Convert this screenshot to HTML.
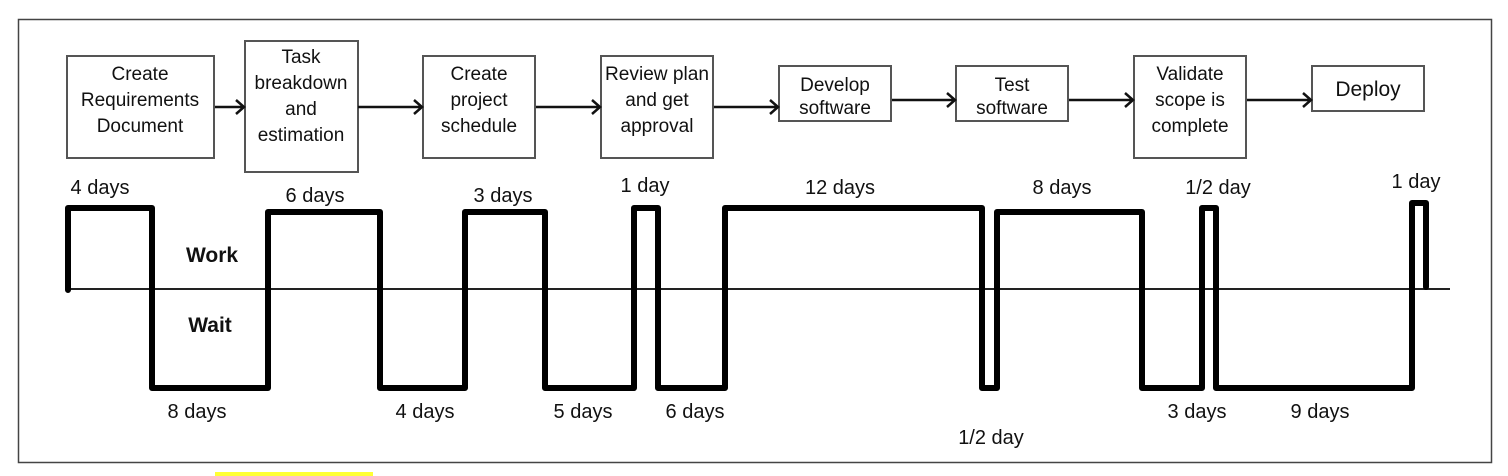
<!DOCTYPE html>
<html><head><meta charset="utf-8"><style>
html,body{margin:0;padding:0;background:#fff;width:1508px;height:476px;overflow:hidden}
text{font-family:"Liberation Sans Narrow","Liberation Sans",sans-serif;fill:#111}
</style></head><body>
<svg width="1508" height="476" viewBox="0 0 1508 476" xmlns="http://www.w3.org/2000/svg">
<rect x="18.5" y="19.5" width="1473" height="443" fill="#fff" stroke="#444" stroke-width="1.5"/>
<rect x="215" y="472" width="158" height="4" fill="#ffff33"/>
<g fill="#fff" stroke="#555" stroke-width="2">
<rect x="67" y="56" width="147" height="102"/>
<rect x="245" y="41" width="113" height="131"/>
<rect x="423" y="56" width="112" height="102"/>
<rect x="601" y="56" width="112" height="102"/>
<rect x="779" y="66" width="112" height="55"/>
<rect x="956" y="66" width="112" height="55"/>
<rect x="1134" y="56" width="112" height="102"/>
<rect x="1312" y="66" width="112" height="45"/>
</g>
<g stroke="#111" stroke-width="2.5" fill="none">
<path d="M215 107H244M236 100l8 7-8 7"/>
<path d="M358 107H422M414 100l8 7-8 7"/>
<path d="M536 107H600M592 100l8 7-8 7"/>
<path d="M714 107H778M770 100l8 7-8 7"/>
<path d="M892 100H955M947 93l8 7-8 7"/>
<path d="M1069 100H1133M1125 93l8 7-8 7"/>
<path d="M1247 100H1311M1303 93l8 7-8 7"/>
</g>
<g font-size="19" text-anchor="middle">
<text x="140" y="80">Create</text><text x="140" y="106">Requirements</text><text x="140" y="132">Document</text>
<text x="301" y="63">Task</text><text x="301" y="89">breakdown</text><text x="301" y="115">and</text><text x="301" y="141">estimation</text>
<text x="479" y="80">Create</text><text x="479" y="106">project</text><text x="479" y="132">schedule</text>
<text x="657" y="80" textLength="104" lengthAdjust="spacingAndGlyphs">Review plan</text><text x="657" y="106">and get</text><text x="657" y="132">approval</text>
<text x="835" y="91">Develop</text><text x="835" y="114">software</text>
<text x="1012" y="91">Test</text><text x="1012" y="114">software</text>
<text x="1190" y="80">Validate</text><text x="1190" y="106">scope is</text><text x="1190" y="132">complete</text>
<text x="1368" y="96" font-size="21">Deploy</text>
</g>
<line x1="68" y1="289" x2="1450" y2="289" stroke="#222" stroke-width="2"/>
<path d="M68 290V208H152V388H268V212H380V388H465V212H545V388H634V208H658V388H725V208H982V388H997V212H1142V388H1202V208H1216V388H1412V203H1426V287" fill="none" stroke="#000" stroke-width="6" stroke-linejoin="round" stroke-linecap="round"/>
<g font-size="20" text-anchor="middle">
<text x="100" y="194">4 days</text>
<text x="315" y="202">6 days</text>
<text x="503" y="202">3 days</text>
<text x="645" y="192">1 day</text>
<text x="840" y="194">12 days</text>
<text x="1062" y="194">8 days</text>
<text x="1218" y="194">1/2 day</text>
<text x="1416" y="188">1 day</text>
<text x="197" y="418">8 days</text>
<text x="425" y="418">4 days</text>
<text x="583" y="418">5 days</text>
<text x="695" y="418">6 days</text>
<text x="991" y="444">1/2 day</text>
<text x="1197" y="418">3 days</text>
<text x="1320" y="418">9 days</text>
</g>
<g font-size="21" font-weight="bold" text-anchor="middle">
<text x="212" y="262">Work</text>
<text x="210" y="332">Wait</text>
</g>
</svg>
</body></html>
